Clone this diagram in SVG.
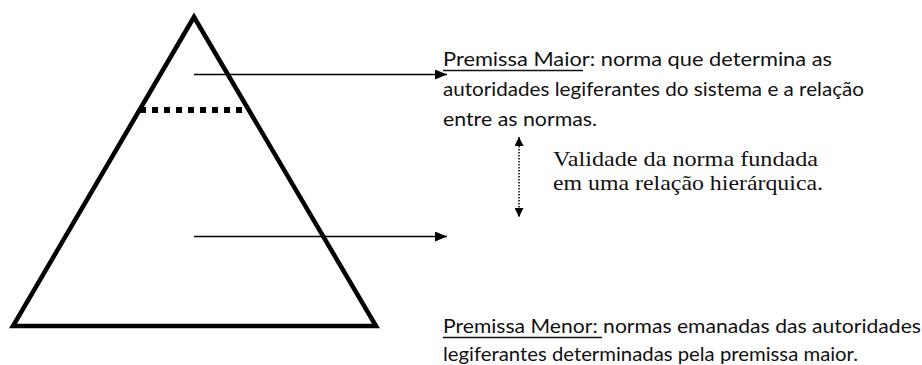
<svg xmlns="http://www.w3.org/2000/svg" width="922" height="365" viewBox="0 0 922 365">
<defs>
<marker id="ah" viewBox="0 0 12 10" refX="12" refY="5" markerWidth="12" markerHeight="10" markerUnits="userSpaceOnUse" orient="auto-start-reverse">
<path d="M0,0 L12,5 L0,10 Z" fill="#000"/>
</marker>
<marker id="ahs" viewBox="0 0 10 10" refX="10" refY="5" markerWidth="10" markerHeight="9" markerUnits="userSpaceOnUse" orient="auto-start-reverse">
<path d="M0,0 L10,5 L0,10 Z" fill="#000"/>
</marker>
<style>
.sans{font-family:Lato,"Open Sans","Liberation Sans",sans-serif;font-size:20px;fill:#111}
.serif{font-family:"Liberation Serif",serif;font-size:22px;fill:#111}
.ul{stroke:#111;stroke-width:1.5}
</style>
</defs>
<rect width="922" height="365" fill="#fff"/>
<g id="pyramid">
<polygon points="194,17 13,326 376,326" fill="none" stroke="#000" stroke-width="4.5" stroke-linejoin="miter"/>
<line x1="140" y1="110" x2="244" y2="110" stroke="#000" stroke-width="6" stroke-dasharray="6 6"/>
</g>
<g id="connectors" stroke="#000" fill="none">
<line x1="194" y1="74.5" x2="447" y2="74.5" stroke-width="1.5" marker-end="url(#ah)"/>
<line x1="194" y1="236.5" x2="447" y2="236.5" stroke-width="1.5" marker-end="url(#ah)"/>
<line x1="519" y1="137" x2="519" y2="217" stroke-width="1.5" stroke-dasharray="1.5 1.5" marker-start="url(#ahs)" marker-end="url(#ahs)"/>
</g>
<g id="premissa-maior">
<text class="sans" x="443" y="66" textLength="389" lengthAdjust="spacingAndGlyphs">Premissa Maior: norma que determina as</text>
<line class="ul" x1="443" y1="70.5" x2="583" y2="70.5"/>
<text class="sans" x="443" y="96" textLength="421" lengthAdjust="spacingAndGlyphs">autoridades legiferantes do sistema e a relação</text>
<text class="sans" x="443" y="126" textLength="154" lengthAdjust="spacingAndGlyphs">entre as normas.</text>
</g>
<g id="validade">
<text class="serif" font-family="Liberation Serif, serif" style="font-family:'Liberation Serif',serif" x="553" y="166" textLength="265" lengthAdjust="spacingAndGlyphs">Validade da norma fundada</text>
<text class="serif" font-family="Liberation Serif, serif" style="font-family:'Liberation Serif',serif" x="553" y="190" textLength="270" lengthAdjust="spacingAndGlyphs">em uma relação hierárquica.</text>
</g>
<g id="premissa-menor">
<text class="sans" x="443" y="333" textLength="478" lengthAdjust="spacingAndGlyphs">Premissa Menor: normas emanadas das autoridades</text>
<line class="ul" x1="443" y1="337.5" x2="602" y2="337.5"/>
<text class="sans" x="443" y="361" textLength="415" lengthAdjust="spacingAndGlyphs">legiferantes determinadas pela premissa maior.</text>
</g>
</svg>
